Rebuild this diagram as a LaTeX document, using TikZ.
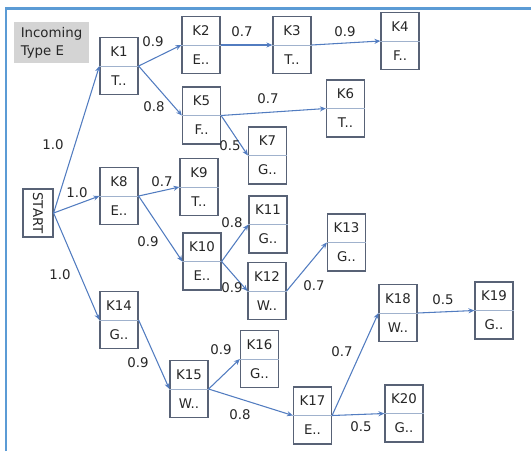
\documentclass[tikz,border=0pt]{standalone}
\usepackage{fontspec}
\setmainfont{DejaVu Sans}
\usetikzlibrary{calc}
\usetikzlibrary{arrows.meta}
\definecolor{FrameBlue}{RGB}{91,155,213}
\definecolor{BoxEdge}{RGB}{88,98,118}
\definecolor{SplitGray}{RGB}{160,178,205}
\definecolor{LinkBlue}{RGB}{82,124,192}
\definecolor{NoteGray}{RGB}{212,212,212}
\tikzset{
  kbox/.style={rectangle,draw=BoxEdge,line width=0.9pt,fill=white,minimum width=28.5pt,minimum height=42.75pt,inner sep=0pt},
  split/.style={draw=SplitGray,line width=0.6pt},
  ktext/.style={inner sep=0pt,font=\fontsize{10}{12}\selectfont,text=black!85},
  link/.style={draw=LinkBlue,line width=0.8pt,-{Stealth[length=4.5pt,width=3.8pt]}},
  lbl/.style={inner sep=0pt,font=\fontsize{10}{12}\selectfont,text=black!85},
}
\tikzset{startbox/.style={rectangle,draw=BoxEdge,line width=0.9pt,fill=white,minimum width=22.5pt,minimum height=36pt,inner sep=0pt},
  note/.style={rectangle,fill=NoteGray,minimum width=56.25pt,minimum height=30.75pt,inner sep=0pt,align=left,font=\fontsize{10}{13.5}\selectfont,text=black!85}}
\begin{document}
\begin{tikzpicture}[x=0.75pt,y=-0.75pt]
\useasboundingbox (0,0) rectangle (531,451);
\draw[FrameBlue,line width=1.6pt] (6,451)--(6,8.5)--(531,8.5);
\node[note] (incoming) at (51.5,42.5) {Incoming\\Type E};
\node[startbox] (START) at (38,213) {};
\node[ktext,rotate=-90] (START-t) at (START.center) {START};
\foreach \nm/\px/\py/\lo in {K1/119/66/T..,K2/201/45/E..,K3/292/45/T..,K4/400/41/F..,
  K5/201.5/115.5/F..,K6/345.5/108.5/T..,K7/267.5/155.5/G..,K8/119/196/E..,
  K9/199/187/T..,K10/202/261.5/E..,K11/268/224.5/G..,K12/267/291/W..,
  K13/346.5/242.5/G..,K14/119/320/G..,K15/189/389/W..,K16/259.5/359/G..,
  K17/312.5/415.5/E..,K18/398/313/W..,K19/494/310.5/G..,K20/404/413.5/G..}{
  \node[kbox] (\nm) at (\px,\py) {};
  \draw[split] (\nm.west) -- (\nm.east);
  \node[ktext] (\nm-t) at ($(\nm.center)!.5!(\nm.north)$) {\nm};
  \node[ktext] (\nm-b) at ($(\nm.center)!.5!(\nm.south)$) {\lo};
}
\foreach \s/\d/\w/\lx/\ly in {START/K1/1.0/53/145,START/K8/1.0/77/193,START/K14/1.0/60/275,
  K1/K2/0.9/153/42,K1/K5/0.8/154/107,K2/K3/0.7/242/32,K3/K4/0.9/345/32,
  K5/K6/0.7/268/99,K5/K7/0.5/230/146,K8/K9/0.7/162/182,K8/K10/0.9/148/242,
  K10/K11/0.8/232/223,K10/K12/0.9/232/288,K12/K13/0.7/314/286,K14/K15/0.9/138/363,
  K15/K16/0.9/221/350,K15/K17/0.8/240/415,K17/K18/0.7/342/352,K17/K20/0.5/361/427,
  K18/K19/0.5/443/300}{
  \draw[link] (\s.east) -- (\d.west);
  \node[lbl] (w-\s-\d) at (\lx,\ly) {\w};
}
\end{tikzpicture}
\end{document}
